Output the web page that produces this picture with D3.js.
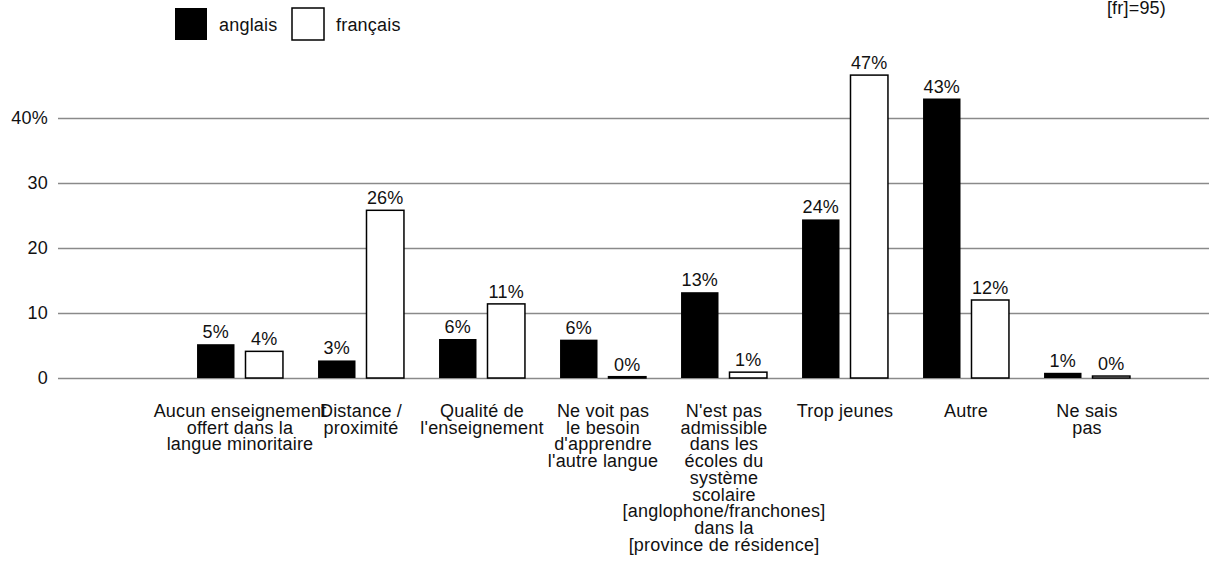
<!DOCTYPE html>
<html>
  <head>
    <meta charset="utf-8" />
    <style>
      body {
        margin: 0;
        background: #fff;
        font-family: "Liberation Sans", Arial, Helvetica, sans-serif;
      }
      svg {
        display: block;
      }
      .grid line {
        stroke: #8a8a8a;
        stroke-width: 1.5;
      }
      .y .tick text,
      .value,
      .cat,
      .legend text,
      .note {
        font-size: 18px;
        letter-spacing: 0.2px;
        fill: #111;
      }
    </style>
  </head>
  <body>
    <svg width="1209" height="586"></svg>

    <script src="https://d3js.org/d3.v7.min.js"></script>
    <script>
      // categories (line breaks as in the original)
      let categories = [
        "Aucun enseignement\noffert dans la\nlangue minoritaire",
        "Distance /\nproximité",
        "Qualité de\nl'enseignement",
        "Ne voit pas\nle besoin\nd'apprendre\nl'autre langue",
        "N'est pas\nadmissible\ndans les\nécoles du\nsystème\nscolaire\n[anglophone/franchones]\ndans la\n[province de résidence]",
        "Trop jeunes",
        "Autre",
        "Ne sais\npas",
      ];

      let seriesNames = ["anglais", "français"];

      // percent values
      let anglais = [5.2, 2.7, 6.0, 5.9, 13.2, 24.4, 43.0, 0.8];
      let francais = [4.1, 25.8, 11.4, 0.2, 0.9, 46.6, 12.0, 0.3];

      let yTicks = [0, 10, 20, 30, 40];

      let width = 1209;
      let svg = d3.select("svg");

      let y = d3.scaleLinear().domain([0, 40]).range([378, 118]);

      let x0 = d3
        .scaleBand()
        .domain(categories)
        .range([179.5, 1147.5])
        .paddingInner(0.29)
        .paddingOuter(0.145);

      let x1 = d3
        .scaleBand()
        .domain(seriesNames)
        .range([0, x0.bandwidth()])
        .paddingInner(0.227);

      let color = d3.scaleOrdinal().domain(seriesNames).range(["#000", "#fff"]);

      // grid + y labels
      let yAxis = d3
        .axisLeft(y)
        .tickValues(yTicks)
        .tickSize(-(width - 58))
        .tickPadding(10)
        .tickFormat((d) => (d == 40 ? d + "%" : d));

      svg
        .append("g")
        .attr("class", "y grid")
        .attr("transform", "translate(58,0)")
        .call(yAxis)
        .call((g) => g.select(".domain").remove())
        .call((g) => g.selectAll(".tick text").attr("font-family", null).attr("fill", "#111"))
        .call((g) => g.selectAll(".tick line").attr("stroke", null));

      let rows = categories.map((c, i) => ({
        cat: c,
        values: [
          { key: "anglais", value: anglais[i] },
          { key: "français", value: francais[i] },
        ],
      }));

      let groups = svg
        .append("g")
        .selectAll("g")
        .data(rows)
        .join("g")
        .attr("transform", (d) => `translate(${x0(d.cat)},0)`);

      groups
        .selectAll("rect")
        .data((d) => d.values)
        .join("rect")
        .attr("x", (d) => x1(d.key))
        .attr("width", x1.bandwidth())
        .attr("y", (d) => y(d.value))
        .attr("height", (d) => y(0) - y(d.value))
        .attr("fill", (d) => color(d.key))
        .attr("stroke", "#000")
        .attr("stroke-width", (d) => (d.key == "anglais" ? 0 : 1.5));

      groups
        .selectAll("text.value")
        .data((d) => d.values)
        .join("text")
        .attr("class", "value")
        .attr("x", (d) => x1(d.key) + x1.bandwidth() / 2)
        .attr("y", (d) => y(d.value) - 6)
        .attr("text-anchor", "middle")
        .text((d) => Math.round(d.value) + "%");

      // category labels
      let catLabels = svg
        .append("g")
        .selectAll("text")
        .data(categories)
        .join("text")
        .attr("class", "cat")
        .attr("text-anchor", "middle")
        .attr("x", (d) => x0(d) + x0.bandwidth() / 2)
        .attr("y", 417);

      catLabels
        .selectAll("tspan")
        .data((d) => d.split("\n").map((t) => ({ t, x: x0(d) + x0.bandwidth() / 2 })))
        .join("tspan")
        .attr("x", (d) => d.x)
        .attr("dy", (d, i) => (i == 0 ? 0 : 16.7))
        .text((d) => d.t);

      // legend
      let legend = svg.append("g").attr("class", "legend");
      let legendX = [175, 292];
      seriesNames.forEach((s, i) => {
        legend
          .append("rect")
          .attr("x", legendX[i])
          .attr("y", 8)
          .attr("width", 32)
          .attr("height", 32)
          .attr("fill", color(s))
          .attr("stroke", "#000")
          .attr("stroke-width", i == 0 ? 0 : 1.5);
        legend
          .append("text")
          .attr("x", legendX[i] + 44)
          .attr("y", 31)
          .text(s);
      });

      // note, top right (first line cut off)
      svg
        .append("text")
        .attr("class", "note")
        .attr("x", 1166)
        .attr("y", 14)
        .attr("text-anchor", "end")
        .text("[fr]=95)");
    </script>
  </body>
</html>
